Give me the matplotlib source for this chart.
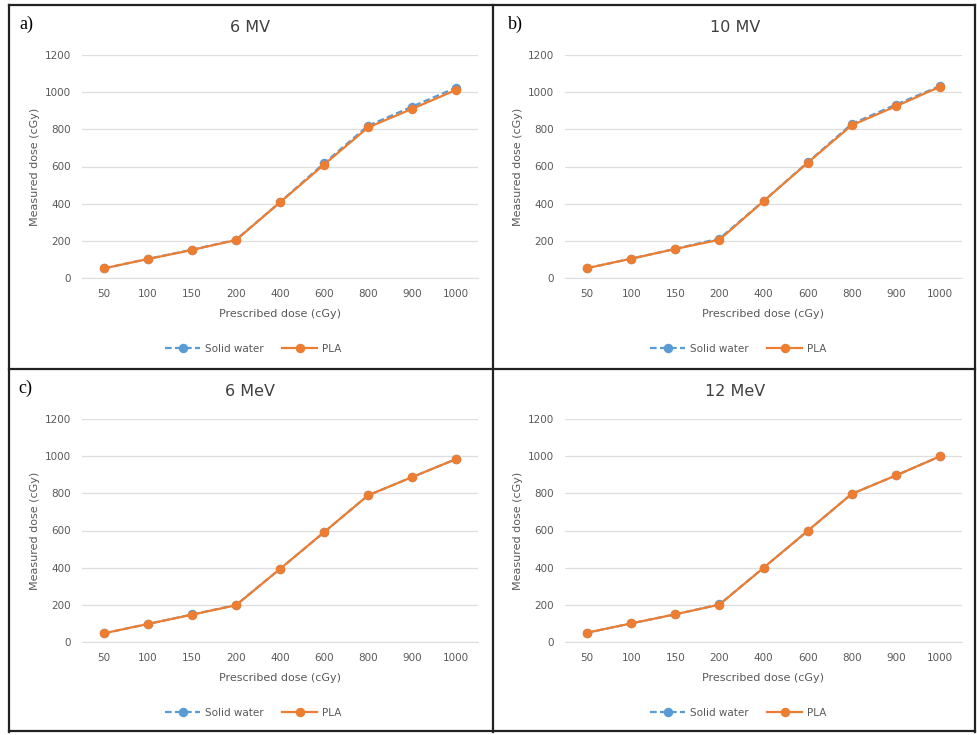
import matplotlib.pyplot as plt
from matplotlib.lines import Line2D

# prescribed dose categories (x axis, categorical)
prescribed = ["50", "100", "150", "200", "400", "600", "800", "900", "1000"]

# measured dose
solid_6mv = [52, 103, 152, 206, 408, 617, 819, 922, 1024]
pla_6mv = [52, 102, 151, 204, 407, 610, 810, 910, 1012]
solid_10mv = [53, 104, 157, 212, 414, 622, 829, 933, 1033]
pla_10mv = [53, 104, 156, 206, 413, 620, 822, 924, 1029]
solid_6mev = [47, 97, 148, 199, 393, 590, 789, 887, 984]
pla_6mev = [47, 97, 147, 198, 393, 591, 789, 887, 984]
solid_12mev = [50, 100, 149, 202, 399, 597, 797, 896, 999]
pla_12mev = [50, 100, 149, 201, 399, 598, 797, 896, 999]

titles = ["6 MV", "10 MV", "6 MeV", "12 MeV"]
letters = ["a)", "b)", "c)", ""]

W, H = 977, 735
fig = plt.figure(figsize=(W / 100, H / 100), dpi=100)

BLUE = "#5b9bd5"
ORANGE = "#ed7d31"
GRID = "#dedede"
TXT = "#595959"


def fx(px):
    return px / W


def fy(py):
    return 1 - py / H


# pixel boxes of the plot areas: left, right, top, bottom
boxes = [(82, 478, 55, 278), (565, 962, 55, 278),
         (82, 478, 419, 642), (565, 962, 419, 642)]
# centre of each panel (for titles and legends)
panel_cx = [250, 735, 250, 735]
panel_top = [5, 5, 369, 369]
letter_x = [26, 515, 25, 0]

series = [(solid_6mv, pla_6mv), (solid_10mv, pla_10mv),
          (solid_6mev, pla_6mev), (solid_12mev, pla_12mev)]

xs = list(range(len(prescribed)))

for i, (l, r, t, b) in enumerate(boxes):
    ax = fig.add_axes([fx(l), fy(b), fx(r - l), (b - t) / H])
    sw, pla = series[i]
    ax.plot(xs, sw, color=BLUE, ls=(0, (3, 1.5)), lw=1.6, marker="o",
            ms=5.8, label="Solid water", zorder=3)
    ax.plot(xs, pla, color=ORANGE, lw=1.6, marker="o", ms=5.8,
            label="PLA", zorder=4)
    ax.set_xlim(-0.5, len(prescribed) - 0.5)
    ax.set_ylim(0, 1200)
    ax.set_yticks(range(0, 1201, 200))
    ax.set_xticks(xs)
    ax.set_xticklabels(prescribed)
    ax.grid(axis="y", color=GRID, lw=0.9)
    ax.set_axisbelow(True)
    for s in ["top", "right", "left"]:
        ax.spines[s].set_visible(False)
    ax.spines["bottom"].set_color(GRID)
    ax.tick_params(length=0, labelsize=7.5, colors=TXT, pad=8)
    ax.set_ylabel("Measured dose (cGy)", fontsize=8, color=TXT, labelpad=3)
    ax.set_xlabel("Prescribed dose (cGy)", fontsize=8, color=TXT, labelpad=7)

    pt = panel_top[i]
    fig.text(fx(panel_cx[i]), fy(pt + 23), titles[i], fontsize=11.5,
             color="#404040", ha="center", va="center")
    if letters[i]:
        fig.text(fx(letter_x[i]), fy(pt + 19), letters[i], fontsize=13,
                 family="Liberation Serif", ha="center", va="center")
    ax.legend(loc="center", bbox_to_anchor=(fx(panel_cx[i] + 3), fy(pt + 344)),
              bbox_transform=fig.transFigure, ncol=2, frameon=False,
              fontsize=7.5, labelcolor=TXT, handlelength=3.4, columnspacing=1.8,
              handletextpad=0.4)

# black frame and dividers
lines = [((8.5, 8.5), (5, 732)), ((975, 975), (5, 732)),
         ((8.5, 975), (5, 5)), ((8.5, 975), (731, 731)),
         ((492.5, 492.5), (5, 732)), ((8.5, 975), (369, 369))]
for (x0, x1), (y0, y1) in lines:
    fig.add_artist(Line2D([fx(x0), fx(x1)], [fy(y0), fy(y1)],
                          color="#222222", lw=1.6))

fig.savefig("out.png", dpi=100)
